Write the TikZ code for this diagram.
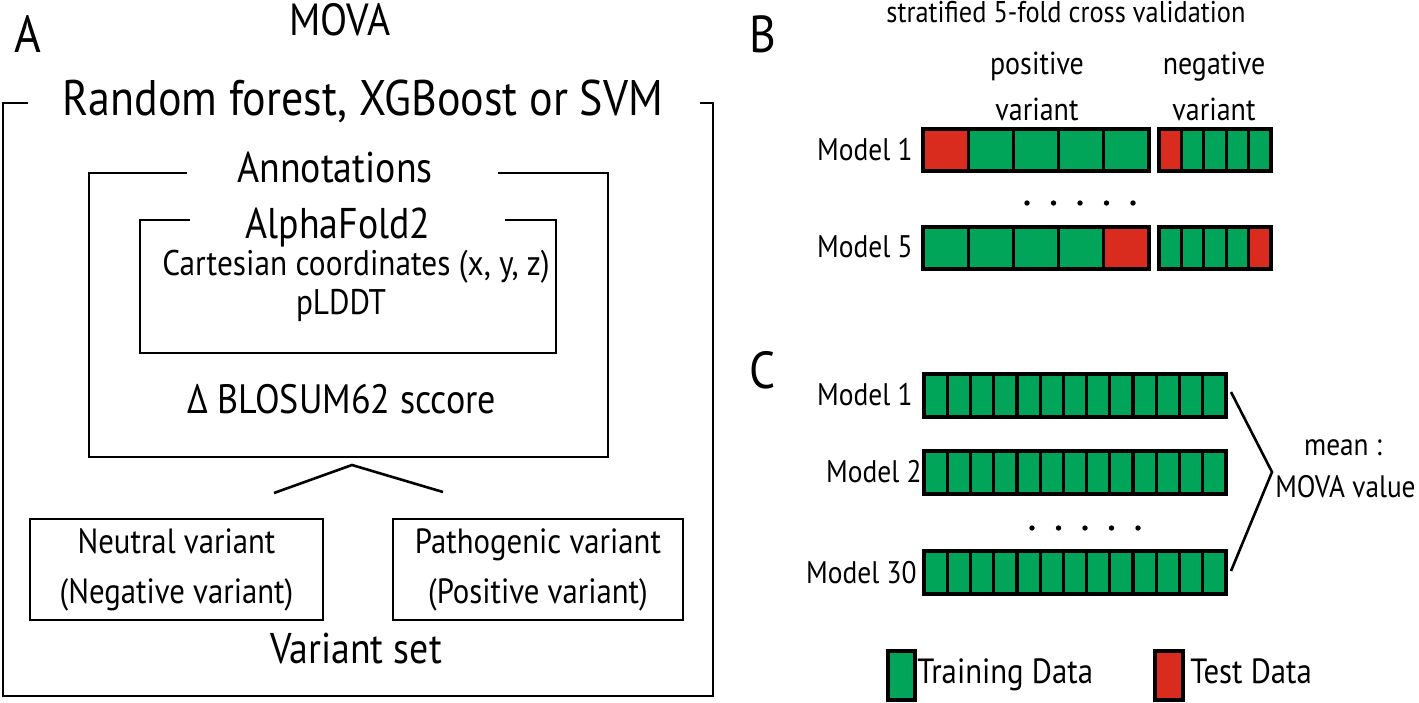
\documentclass[tikz,border=0pt]{standalone}
\usepackage{fontspec}
\setmainfont{PT Sans}[FakeStretch=0.88]
\usetikzlibrary{positioning}
\definecolor{traingreen}{RGB}{0,165,90}
\definecolor{testred}{RGB}{217,43,30}
\newcommand{\fsz}[1]{\fontsize{#1}{#1}\selectfont}

\begin{document}
\begin{tikzpicture}[x=0.5pt,y=-0.5pt,
    frame/.style={line width=1.3pt},
    lbl/.style={inner sep=0pt, anchor=base},
    varbox/.style={draw, line width=1.3pt, inner sep=0pt, minimum height=50.5pt,
      align=center, font=\fontsize{17.5}{25}\selectfont},
    cell/.style={draw, line width=1.6pt, fill=traingreen, inner sep=0pt, outer sep=0pt},
    panel/.style={lbl, font=\fsz{26}}]
\useasboundingbox (0,0) rectangle (1419,702);

% panel A
\node[panel] (labA) at (28,52) {A};
\node[lbl, font=\fsz{22.5}] (mova) at (340,35) {MOVA};
\node[lbl, font=\fsz{25}] (rf) at (363,115) {Random forest, XGBoost or SVM};
\draw[frame] (28,103) -- (3,103) -- (3,696) -- (713,696) -- (713,103) -- (700,103);
\node[lbl, font=\fsz{21.5}] (annot) at (335,182) {Annotations};
\draw[frame] (187,173) -- (89,173) -- (89,457) -- (608,457) -- (608,173) -- (498,173);
\node[lbl, font=\fsz{21.5}] (af2) at (338,238) {AlphaFold2};
\draw[frame] (190,220) -- (140,220) -- (140,353) -- (556,353) -- (556,220) -- (505,220);
\node[lbl, font=\fsz{17.8}] (cart) at (356,275) {Cartesian coordinates (x, y, z)};
\node[lbl, font=\fsz{17.8}] (plddt) at (341,314) {pLDDT};
\node[lbl, font=\fsz{20.5}] (blosum) at (342,413) {Δ BLOSUM62 sccore};
\coordinate (capL) at (274,493);
\coordinate (capT) at (352,465);
\coordinate (capR) at (443,492);
\draw[frame] (capL) -- (capT) -- (capR);
\node[varbox, minimum width=146.5pt] (neutral) at (176.5,569.5) {Neutral variant\\(Negative variant)};
\node[varbox, minimum width=145pt] (patho) at (538,569.5) {Pathogenic variant\\(Positive variant)};
\node[lbl, font=\fsz{21.5}] (vset) at (356,663) {Variant set};

% panel B
\node[panel] (labB) at (763,52) {B};
\node[lbl, font=\fsz{15}] (cvtitle) at (1066,22) {stratified 5-fold cross validation};
\node[lbl, font=\fsz{15.9}] (pos1) at (1037,74) {positive};
\node[lbl, font=\fsz{15.9}] (pos2) at (1037,120) {variant};
\node[lbl, font=\fsz{15.9}] (neg1) at (1214,74) {negative};
\node[lbl, font=\fsz{15.9}] (neg2) at (1214,120) {variant};
\node[lbl, anchor=base east, font=\fsz{15.6}] (bm1) at (913,160) {Model 1};
\node[lbl, anchor=base east, font=\fsz{15.6}] (bm5) at (913,257) {Model 5};
\foreach \i/\col in {1/testred,2/traingreen,3/traingreen,4/traingreen,5/traingreen}
  \node[cell, fill=\col, minimum width=22.6pt, minimum height=21pt] (bpa\i) at ({923+45.2*(\i-0.5)},150) {};
\foreach \i/\col in {1/testred,2/traingreen,3/traingreen,4/traingreen,5/traingreen}
  \node[cell, fill=\col, minimum width=11.2pt, minimum height=21pt] (bna\i) at ({1159+22.4*(\i-0.5)},150) {};
\foreach \i/\col in {1/traingreen,2/traingreen,3/traingreen,4/traingreen,5/testred}
  \node[cell, fill=\col, minimum width=22.6pt, minimum height=21pt] (bpe\i) at ({923+45.2*(\i-0.5)},248) {};
\foreach \i/\col in {1/traingreen,2/traingreen,3/traingreen,4/traingreen,5/testred}
  \node[cell, fill=\col, minimum width=11.2pt, minimum height=21pt] (bne\i) at ({1159+22.4*(\i-0.5)},248) {};
\foreach \k in {0,...,4}
  \fill ({1027+26.5*\k},203) circle (1.35pt);

% panel C
\node[panel] (labC) at (763,388) {C};
\node[lbl, anchor=base east, font=\fsz{15.6}] (cm1) at (913,405) {Model 1};
\node[lbl, anchor=base east, font=\fsz{15.6}] (cm2) at (922,482) {Model 2};
\node[lbl, anchor=base east, font=\fsz{15.6}] (cm30) at (917,583) {Model 30};
\foreach \r/\y in {a/395.5,b/472.5,z/572.5}
  \foreach \i in {1,...,13}
    \node[cell, minimum width=11.615pt, minimum height=21.5pt] (c\r\i) at ({924+23.23*(\i-0.5)},\y) {};
\foreach \k in {0,...,4}
  \fill ({1032+26.5*\k},528) circle (1.35pt);
\coordinate (apex) at (1272,472);
\draw[line width=1.3pt] ([shift={(5,18)}]ca13.north east) -- (apex) -- ([shift={(5,-23)}]cz13.south east);
\node[lbl, font=\fsz{15.5}] (mean) at (1343,455) {mean :};
\node[lbl, anchor=base east, font=\fsz{15.5}] (movav) at (1416,497) {MOVA value};

% legend
\node[cell, minimum width=13.5pt, minimum height=24.5pt] (lgtrain) at (901.5,675.5) {};
\node[lbl, anchor=base west, font=\fsz{17.5}] (lgtraint) at (917,683) {Training Data};
\node[cell, fill=testred, minimum width=14pt, minimum height=24.5pt] (lgtest) at (1169,675.5) {};
\node[lbl, anchor=base west, font=\fsz{17.5}] (lgtestt) at (1190,683) {Test Data};
\end{tikzpicture}
\end{document}
